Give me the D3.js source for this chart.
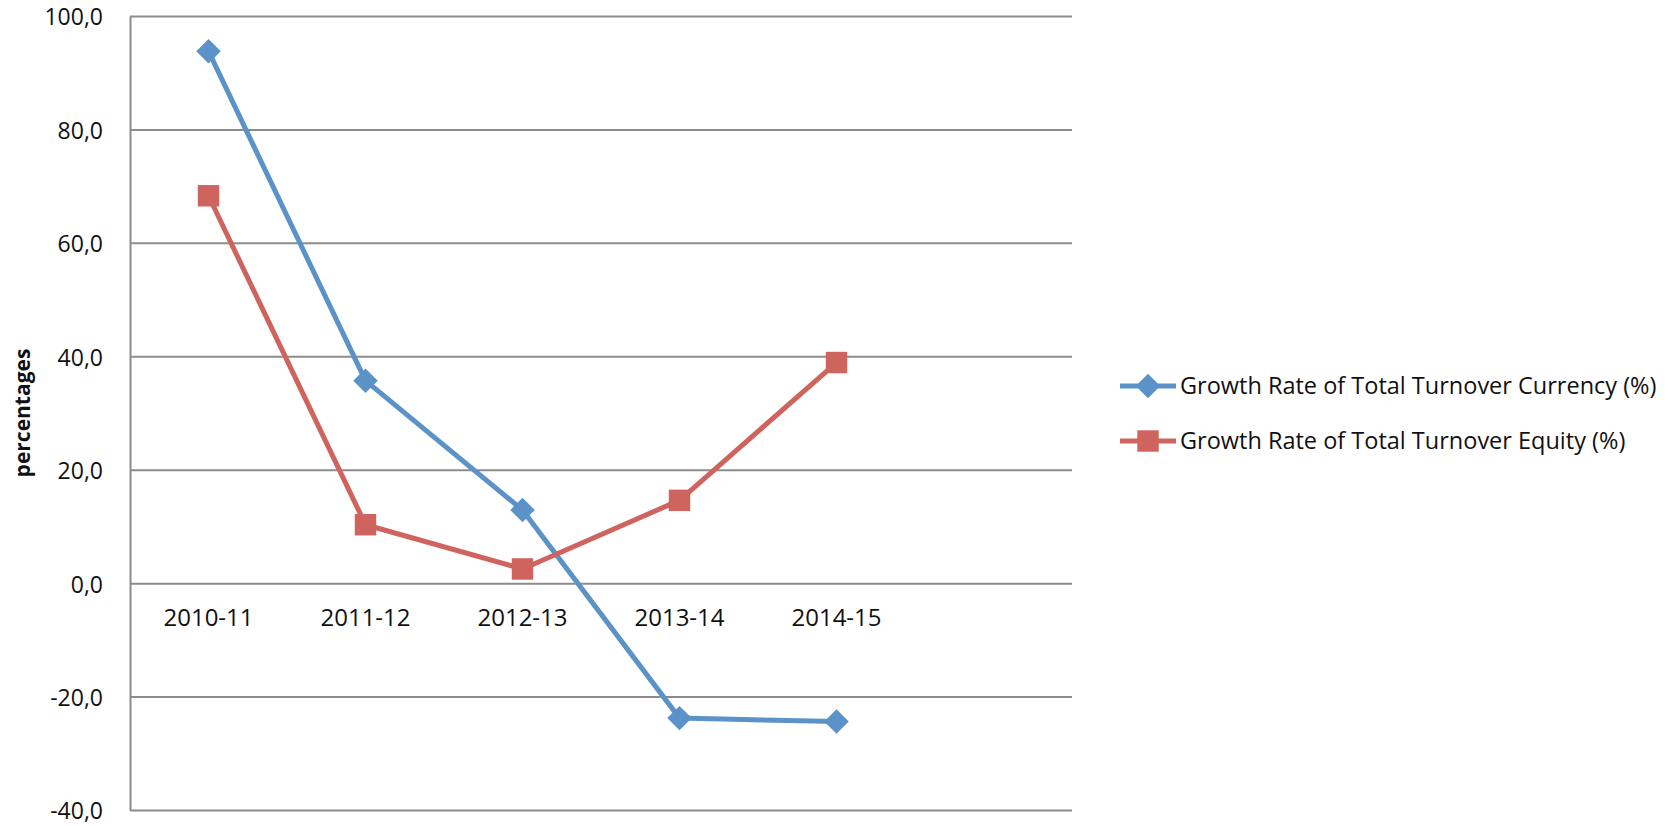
<!DOCTYPE html>
<html>
<head>
<meta charset="utf-8">
<script src="https://cdn.jsdelivr.net/npm/d3@7"></script>
<style>
  html, body { margin: 0; padding: 0; background: #fff; }
  svg { display: block; font-family: "Open Sans", "Liberation Sans", sans-serif; }
</style>
</head>
<body>
<div id="chart"></div>
<script>
// Values
const categories = ["2010-11", "2011-12", "2012-13", "2013-14", "2014-15"];
const currency = [93.8, 35.7, 12.9, -23.8, -24.4];
const equity = [68.3, 10.3, 2.5, 14.6, 38.9];
const yTicks = [-40, -20, 0, 20, 40, 60, 80, 100];
const seriesNames = [
  "Growth Rate of Total Turnover Currency (%)",
  "Growth Rate of Total Turnover Equity (%)"
];

const W = 1673, H = 826;
const margin = { top: 16, right: 601, bottom: 16, left: 130 };
const w = W - margin.left - margin.right;
const h = H - margin.top - margin.bottom;

const blue = "#5b93c9", red = "#cf645e", grid = "#8c8c8c";

const svg = d3.select("#chart").append("svg")
  .attr("width", W).attr("height", H)
  .attr("viewBox", `0 0 ${W} ${H}`);

const g = svg.append("g").attr("transform", `translate(${margin.left},${margin.top})`);

// the source chart leaves an empty sixth category slot on the right
const x = d3.scaleBand().domain([...categories, ""]).range([0, w]);
const cx = d => x(d) + x.bandwidth() / 2;
const y = d3.scaleLinear().domain([-40, 100]).range([h, 0]);

// gridlines
g.append("g")
  .call(d3.axisLeft(y).tickValues(yTicks).tickSize(-w).tickFormat(""))
  .call(g => g.select(".domain").remove())
  .selectAll("line").attr("stroke", grid).attr("stroke-width", 2);

// y axis with comma decimals and a plain hyphen for negatives
const fmt = v => v.toFixed(1).replace(".", ",");
g.append("g")
  .call(d3.axisLeft(y).tickValues(yTicks).tickSize(0).tickPadding(27).tickFormat(fmt))
  .call(g => g.select(".domain").attr("stroke", grid).attr("stroke-width", 2))
  .selectAll("text")
  .attr("dy", "0.39em")
  .attr("font-size", 23).attr("font-family", "Open Sans, sans-serif").attr("fill", "#111");

// category labels hang off the zero line
g.append("g")
  .attr("transform", `translate(0,${y(0)})`)
  .call(d3.axisBottom(x).tickValues(categories).tickSize(0).tickPadding(26))
  .call(g => g.select(".domain").remove())
  .selectAll("text")
  .attr("font-size", 24).attr("font-family", "Open Sans, sans-serif").attr("fill", "#111");

// y title
svg.append("text")
  .attr("transform", `translate(23,${margin.top + h / 2}) rotate(-90)`)
  .attr("text-anchor", "middle").attr("dy", "0.35em")
  .attr("font-size", 21).attr("font-weight", "bold").attr("fill", "#111")
  .text("percentages");

const line = d3.line().x((d, i) => cx(categories[i])).y(d => y(d));

const diamond = d3.symbol().type(d3.symbolSquare).size(300);
const square = d3.symbol().type(d3.symbolSquare).size(460);

function series(values, color, marker, rot) {
  g.append("path").datum(values)
    .attr("fill", "none").attr("stroke", color).attr("stroke-width", 5)
    .attr("stroke-linejoin", "round")
    .attr("d", line);
  g.selectAll(null).data(values).join("path")
    .attr("transform", (d, i) => `translate(${cx(categories[i])},${y(d)}) rotate(${rot})`)
    .attr("fill", color)
    .attr("d", marker);
}
series(currency, blue, diamond, 45);
series(equity, red, square, 0);

// legend
const legend = svg.append("g").attr("transform", "translate(1120,386)");
[[blue, diamond, 45], [red, square, 0]].forEach(([color, marker, rot], i) => {
  const row = legend.append("g").attr("transform", `translate(0,${i * 55})`);
  row.append("line").attr("x1", 0).attr("x2", 56)
    .attr("stroke", color).attr("stroke-width", 5);
  row.append("path").attr("transform", `translate(28,0) rotate(${rot})`)
    .attr("fill", color).attr("d", marker);
  row.append("text").attr("x", 60).attr("dy", "0.35em")
    .attr("font-size", 23.5).attr("fill", "#111")
    .text(seriesNames[i]);
});
</script>
</body>
</html>
